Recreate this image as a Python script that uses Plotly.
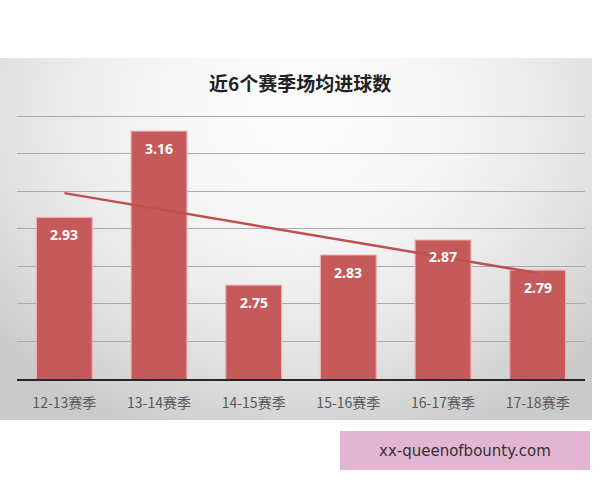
import base64
import struct
import zlib

import numpy as np
import plotly.graph_objects as go

# ---------------- data ----------------
seasons = ["12-13赛季", "13-14赛季", "14-15赛季", "15-16赛季", "16-17赛季", "17-18赛季"]
goals = [2.93, 3.16, 2.75, 2.83, 2.87, 2.79]
title_text = "近6个赛季场均进球数"
watermark_text = "xx-queenofbounty.com"

W, H = 600, 480


# ---------------- background gradient panel (decoration) ----------------
def make_png(arr):
    h, w, _ = arr.shape
    raw = b"".join(b"\x00" + arr[i].tobytes() for i in range(h))

    def chunk(tag, data):
        c = struct.pack(">I", len(data)) + tag + data
        return c + struct.pack(">I", zlib.crc32(tag + data) & 0xFFFFFFFF)

    png = b"\x89PNG\r\n\x1a\n"
    png += chunk(b"IHDR", struct.pack(">IIBBBBB", w, h, 8, 2, 0, 0, 0))
    png += chunk(b"IDAT", zlib.compress(raw, 9))
    png += chunk(b"IEND", b"")
    return "data:image/png;base64," + base64.b64encode(png).decode()


px0, px1, py0, py1 = 0, 592, 58, 420
gw, gh = 296, 181
xs = np.linspace(px0, px1, gw)
ys = np.linspace(py0, py1, gh)
X, Y = np.meshgrid(xs, ys)
d2 = ((X - 300) / 420.0) ** 2 + ((Y - 110) / 360.0) ** 2
v = np.clip(252 - 52 * d2, 202, 255).astype(np.uint8)
img = np.stack([v, v, v], axis=-1)
bg_uri = make_png(img)

# ---------------- trend ----------------
idx = np.arange(len(goals))
slope, icpt = np.polyfit(idx, goals, 1)
trend = icpt + slope * idx

fig = go.Figure()
fig.add_trace(go.Bar(
    x=seasons, y=goals, width=0.59,
    marker=dict(color="#C65A5A", line=dict(color="#EFB0B0", width=1.2)),
    hoverinfo="skip", showlegend=False,
))
fig.add_trace(go.Scatter(
    x=seasons, y=trend, mode="lines",
    line=dict(color="#C0504D", width=2.5),
    hoverinfo="skip", showlegend=False,
))

for s, g in zip(seasons, goals):
    fig.add_annotation(
        x=s, y=g, xref="x", yref="y", text=f"{g:.2f}", showarrow=False,
        yshift=-17, font=dict(family="Noto Sans, DejaVu Sans, sans-serif", size=14,
                              color="white", weight="bold"),
    )

fig.add_annotation(
    x=0.5, y=1 - 82 / H, xref="paper", yref="paper", text=title_text,
    showarrow=False, xanchor="center", yanchor="middle",
    font=dict(family="Noto Sans CJK SC", size=19, color="#222222", weight="bold"),
)

# watermark box
fig.add_shape(type="rect", xref="paper", yref="paper",
              x0=340 / W, x1=590 / W, y0=1 - 470 / H, y1=1 - 431 / H,
              fillcolor="#E2B6D3", line=dict(width=0), layer="above")
fig.add_annotation(
    x=465 / W, y=1 - 451 / H, xref="paper", yref="paper", text=watermark_text,
    showarrow=False, xanchor="center", yanchor="middle",
    font=dict(family="DejaVu Sans", size=15, color="#333333"),
)

y_lo, y_hi = 2.5, 3.21
px_per_unit = (379 - 116) / 0.7
y_top_px = 379 - (y_hi - y_lo) * px_per_unit

fig.update_layout(
    width=W, height=H,
    margin=dict(l=0, r=0, t=0, b=0),
    paper_bgcolor="white",
    plot_bgcolor="rgba(0,0,0,0)",
    bargap=0.41,
    images=[dict(source=bg_uri, xref="paper", yref="paper",
                 x=px0 / W, y=1 - py0 / H, sizex=(px1 - px0) / W, sizey=(py1 - py0) / H,
                 xanchor="left", yanchor="top", sizing="stretch", layer="below")],
    xaxis=dict(domain=[17 / W, 585 / W], showgrid=False, zeroline=False,
               showline=True, linecolor="#262626", linewidth=1.6,
               ticks="", ticklabelstandoff=10,
               tickfont=dict(family="Noto Sans CJK SC", size=14, color="#595959")),
    yaxis=dict(domain=[1 - 379 / H, 1 - y_top_px / H], range=[y_lo, y_hi],
               dtick=0.1, tick0=2.5, showticklabels=False, zeroline=False,
               showgrid=True, gridcolor="#ABABAB", gridwidth=1, showline=False),
)

fig.write_html("out.html", post_script="document.body.style.margin='0';",
               config={"displayModeBar": False})
